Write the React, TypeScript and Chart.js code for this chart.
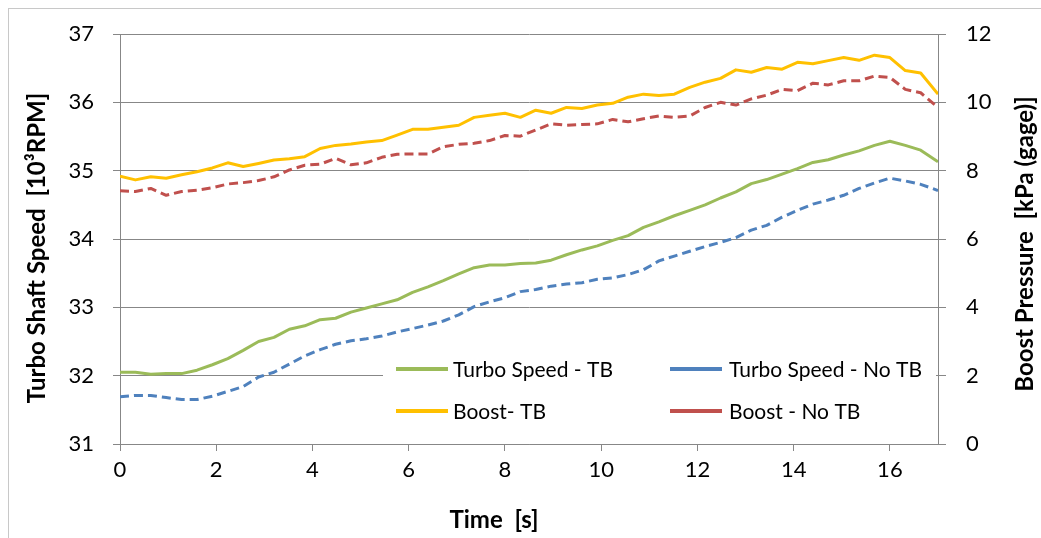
import React, { useEffect, useRef } from "react";
import { Chart, registerables } from "chart.js";

Chart.register(...registerables);

// Sample times [s]
const times = [
  0, 0.32, 0.64, 0.96, 1.28, 1.6, 1.92, 2.24, 2.56, 2.88,
  3.2, 3.52, 3.84, 4.16, 4.48, 4.8, 5.12, 5.44, 5.76, 6.08,
  6.4, 6.72, 7.04, 7.36, 7.68, 8.0, 8.32, 8.64, 8.96, 9.28,
  9.6, 9.92, 10.24, 10.56, 10.88, 11.2, 11.52, 11.84, 12.16, 12.48,
  12.8, 13.12, 13.44, 13.76, 14.08, 14.4, 14.72, 15.04, 15.36, 15.68,
  16.0, 16.32, 16.64, 17.0,
];

// Turbo shaft speed [10^3 RPM], left axis
const turboSpeedTB = [
  32.05, 32.05, 32.02, 32.03, 32.03, 32.08, 32.16, 32.25, 32.37, 32.5,
  32.56, 32.68, 32.73, 32.82, 32.84, 32.93, 32.99, 33.05, 33.11, 33.22,
  33.3, 33.39, 33.49, 33.58, 33.62, 33.62, 33.64, 33.65, 33.69, 33.77,
  33.84, 33.9, 33.98, 34.05, 34.17, 34.25, 34.34, 34.42, 34.5, 34.6,
  34.69, 34.81, 34.87, 34.95, 35.03, 35.12, 35.16, 35.23, 35.29, 35.37,
  35.43, 35.37, 35.3, 35.13,
];
const turboSpeedNoTB = [
  31.69, 31.71, 31.71, 31.68, 31.65, 31.65, 31.7, 31.77, 31.84, 31.98,
  32.05, 32.17, 32.29, 32.38, 32.46, 32.51, 32.54, 32.58, 32.64, 32.69,
  32.74, 32.8, 32.89, 33.01, 33.08, 33.14, 33.23, 33.26, 33.31, 33.34,
  33.36, 33.41, 33.43, 33.48, 33.55, 33.68, 33.75, 33.82, 33.89, 33.95,
  34.02, 34.13, 34.2, 34.32, 34.42, 34.51, 34.57, 34.64, 34.74, 34.82,
  34.89, 34.85, 34.8, 34.71,
];

// Boost pressure [kPa gage], right axis
const boostTB = [
  7.84, 7.73, 7.82, 7.78, 7.88, 7.97, 8.08, 8.23, 8.12, 8.21,
  8.31, 8.35, 8.41, 8.65, 8.74, 8.78, 8.84, 8.88, 9.04, 9.21,
  9.21, 9.27, 9.33, 9.56, 9.62, 9.68, 9.56, 9.77, 9.68, 9.85,
  9.82, 9.92, 9.97, 10.15, 10.24, 10.2, 10.24, 10.44, 10.59, 10.7,
  10.95, 10.88, 11.02, 10.97, 11.17, 11.13, 11.22, 11.31, 11.23, 11.38,
  11.31, 10.93, 10.86, 10.24,
];
const boostNoTB = [
  7.41, 7.39, 7.48, 7.28, 7.39, 7.43, 7.5, 7.61, 7.65, 7.71,
  7.82, 8.02, 8.16, 8.19, 8.36, 8.17, 8.23, 8.39, 8.48, 8.49,
  8.49, 8.7, 8.77, 8.8, 8.88, 9.03, 9.01, 9.19, 9.37, 9.33,
  9.35, 9.37, 9.5, 9.43, 9.52, 9.6, 9.56, 9.6, 9.85, 10.0,
  9.92, 10.1, 10.21, 10.38, 10.34, 10.56, 10.51, 10.63, 10.63, 10.77,
  10.73, 10.38, 10.28, 9.85,
];

const seriesNames = [
  "Turbo Speed - TB",
  "Turbo Speed - No TB",
  "Boost- TB",
  "Boost - No TB",
];
const seriesColors = ["#9BBB59", "#4F81BD", "#FFC000", "#C0504D"];

const leftTitle = "Turbo Shaft Speed  [10\u00B3RPM]";
const rightTitle = "Boost Pressure  [kPa (gage)]";
const bottomTitle = "Time  [s]";

const FONT = "Lato, 'Open Sans', sans-serif";
const GRID = "#878787";

const overlay = {
  id: "overlay",
  afterDatasetsDraw(chart: any) {
    const { ctx, chartArea } = chart;
    const L = chartArea.left;
    const B = chartArea.bottom;
    ctx.save();

    // legend panel inside the plot area
    ctx.fillStyle = "#ffffff";
    ctx.fillRect(L + 263, B - 99, chartArea.right - 2 - (L + 263), 88);

    const rows = [B - 75, B - 33];
    const cols = [
      { x0: L + 276, x1: L + 328, tx: L + 333 },
      { x0: L + 550, x1: L + 602, tx: L + 609 },
    ];
    ctx.font = `21px ${FONT}`;
    ctx.textBaseline = "middle";
    ctx.textAlign = "left";
    seriesNames.forEach((name, i) => {
      const r = rows[Math.floor(i / 2)];
      const c = cols[i % 2];
      ctx.strokeStyle = seriesColors[i];
      ctx.lineWidth = 4;
      ctx.beginPath();
      ctx.moveTo(c.x0, r);
      ctx.lineTo(c.x1, r);
      ctx.stroke();
      ctx.fillStyle = "#000000";
      ctx.fillText(name, c.tx, r + 1);
    });

    // axis titles
    ctx.font = `bold 24px ${FONT}`;
    ctx.fillStyle = "#000000";
    ctx.textAlign = "center";
    ctx.textBaseline = "middle";

    ctx.save();
    ctx.translate(28, 239);
    ctx.rotate(-Math.PI / 2);
    ctx.fillText(leftTitle, 0, 0);
    ctx.restore();

    ctx.save();
    ctx.translate(1016, 235);
    ctx.rotate(-Math.PI / 2);
    ctx.fillText(rightTitle, 0, 0);
    ctx.restore();

    ctx.fillText(bottomTitle, 485, 511);
    ctx.restore();
  },
};

// keep the plot area fixed: axis boxes get exact sizes, no label overhang padding
const fixWidth = (w: number) => (s: any) => {
  s.width = w;
  s.paddingTop = 0;
  s.paddingBottom = 0;
};

export default function App() {
  const ref = useRef<HTMLCanvasElement>(null);

  useEffect(() => {
    const canvas = ref.current;
    if (!canvas) return;
    const pts = (ys: number[]) => ys.map((y, i) => ({ x: times[i], y }));
    const line = (i: number, ys: number[], axis: string, dashed: boolean) => ({
      label: seriesNames[i],
      data: pts(ys),
      yAxisID: axis,
      borderColor: seriesColors[i],
      backgroundColor: seriesColors[i],
      borderWidth: 3,
      borderDash: dashed ? [9, 5] : [],
      borderJoinStyle: "round" as const,
      pointRadius: 0,
      tension: 0,
      fill: false,
    });

    const tickFont = { family: FONT, size: 22 };
    const chart = new Chart(canvas, {
      type: "line",
      data: {
        datasets: [
          line(2, boostTB, "y1", false),
          line(3, boostNoTB, "y1", true),
          line(0, turboSpeedTB, "y", false),
          line(1, turboSpeedNoTB, "y", true),
        ],
      },
      options: {
        responsive: false,
        animation: false,
        events: [],
        layout: { padding: { top: 25, left: 0, right: 0, bottom: 0 } },
        plugins: {
          legend: { display: false },
          tooltip: { enabled: false },
        },
        scales: {
          x: {
            type: "linear",
            min: 0,
            max: 17,
            ticks: {
              stepSize: 2,
              includeBounds: false,
              font: tickFont,
              color: "#000000",
              padding: 6,
              maxRotation: 0,
            },
            grid: { drawOnChartArea: false, drawTicks: true, tickLength: 7, color: GRID },
            border: { color: GRID },
            afterFit: (s: any) => {
              s.height = 94;
            },
          },
          y: {
            type: "linear",
            position: "left",
            min: 31,
            max: 37,
            ticks: { stepSize: 1, font: tickFont, color: "#000000", padding: 19 },
            grid: { color: GRID, tickLength: 7 },
            border: { color: GRID },
            afterFit: fixWidth(111),
          },
          y1: {
            type: "linear",
            position: "right",
            min: 0,
            max: 12,
            ticks: { stepSize: 2, font: tickFont, color: "#000000", padding: 20 },
            grid: { drawOnChartArea: false, tickLength: 8, color: GRID },
            border: { color: GRID },
            afterFit: fixWidth(103),
          },
        },
      },
      plugins: [overlay],
    });
    return () => chart.destroy();
  }, []);

  return (
    <div
      style={{
        position: "fixed",
        left: 0,
        top: 0,
        width: 1041,
        height: 538,
        overflow: "hidden",
        background: "#ffffff",
      }}
    >
      <div
        style={{
          position: "absolute",
          left: 8,
          top: 8,
          width: 1040,
          height: 540,
          border: "1px solid #c8c8c8",
        }}
      />
      <canvas
        ref={ref}
        width={1032}
        height={529}
        style={{ position: "absolute", left: 9, top: 9, width: 1032, height: 529 }}
      />
    </div>
  );
}
